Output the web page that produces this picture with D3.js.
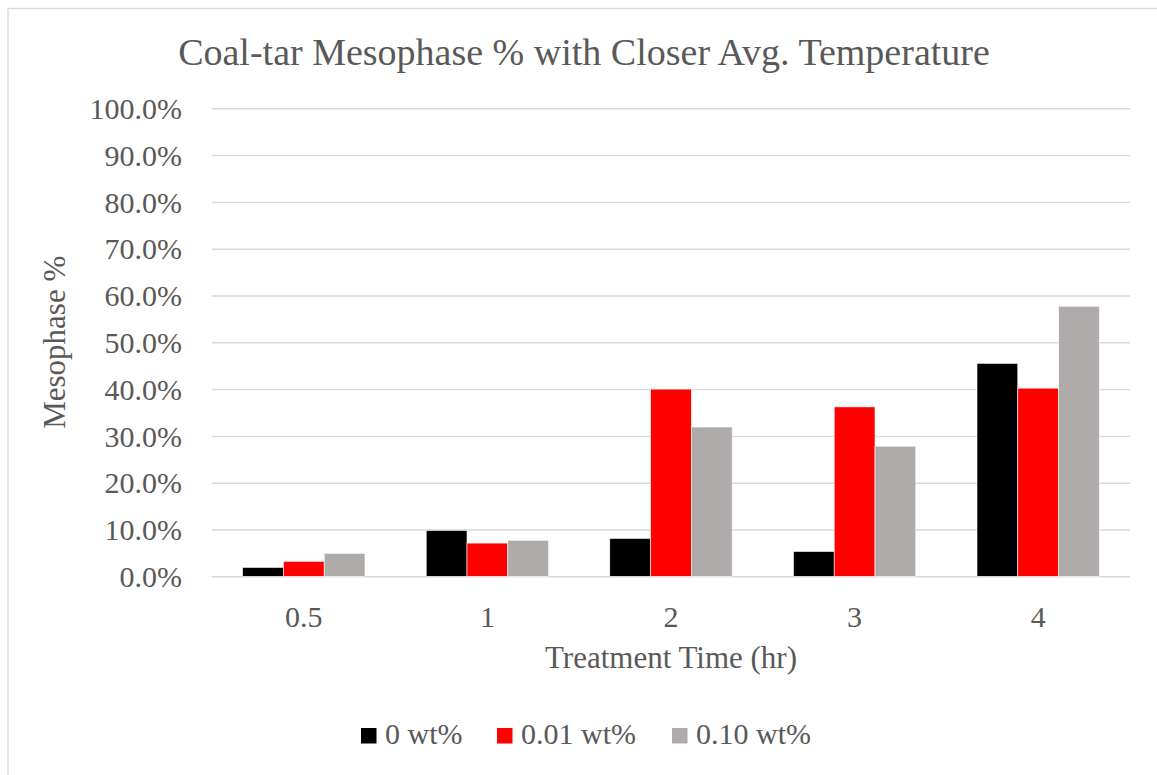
<!DOCTYPE html>
<html>
<head>
<meta charset="utf-8">
<script src="https://cdn.jsdelivr.net/npm/d3@7"></script>
<style>
  html, body { margin: 0; padding: 0; background: #fff; }
  svg { display: block; }
  text { font-family: "Liberation Serif", "Times New Roman", serif; fill: #595959; }
</style>
</head>
<body>
<svg id="chart" width="1157" height="775"></svg>
<script>
// Treatment times (hr) on the x axis
const categories = ["0.5", "1", "2", "3", "4"];

// Series: additive loading and mesophase fraction (%) per treatment time
const seriesNames = ["0 wt%", "0.01 wt%", "0.10 wt%"];
const series0wt   = [1.9, 9.8, 8.1, 5.3, 45.5];
const series001wt = [3.2, 7.1, 40.0, 36.2, 40.2];
const series010wt = [4.9, 7.7, 31.9, 27.8, 57.7];
const seriesColors = ["#000000", "#FF0000", "#AFABAB"];

// Y axis ticks (%)
const yTicks = [0, 10, 20, 30, 40, 50, 60, 70, 80, 90, 100];

const chartTitle = "Coal-tar Mesophase % with Closer Avg. Temperature";
const xTitle = "Treatment Time (hr)";
const yTitle = "Mesophase %";

const svg = d3.select("#chart");

// chart frame
svg.append("rect")
  .attr("x", 8).attr("y", 8.5)
  .attr("width", 1200).attr("height", 800)
  .attr("fill", "none").attr("stroke", "#D9D9D9").attr("stroke-width", 1.3);

const plot = { left: 212, right: 1130, top: 108.3, bottom: 576.3 };

const x = d3.scaleBand()
  .domain(categories)
  .range([plot.left, plot.right])
  .paddingInner(1 / 3)
  .paddingOuter(1 / 6);

const xInner = d3.scaleBand()
  .domain(seriesNames)
  .range([0, x.bandwidth()]);

const y = d3.scaleLinear().domain([0, 100]).range([plot.bottom, plot.top]);

// gridlines + y tick labels
const yAxis = d3.axisLeft(y)
  .tickValues(yTicks)
  .tickSize(-(plot.right - plot.left))
  .tickPadding(30)
  .tickFormat(d => d.toFixed(1) + "%");

const gy = svg.append("g")
  .attr("transform", `translate(${plot.left},0)`)
  .call(yAxis);
gy.select(".domain").remove();
gy.selectAll(".tick line").attr("stroke", "#D9D9D9").attr("stroke-width", 1.4);
gy.selectAll(".tick text")
  .attr("font-size", 30)
  .attr("font-family", "Liberation Serif")
  .attr("fill", "#595959")
  .attr("dy", "0.34em");

// bars
const allSeries = [series0wt, series001wt, series010wt];
const rows = categories.map((c, i) => ({
  cat: c,
  vals: seriesNames.map((s, k) => ({ name: s, value: allSeries[k][i], color: seriesColors[k] }))
}));

const groups = svg.append("g").selectAll("g")
  .data(rows).join("g")
  .attr("transform", d => `translate(${x(d.cat)},0)`);

groups.selectAll("rect")
  .data(d => d.vals).join("rect")
  .attr("x", d => xInner(d.name))
  .attr("width", xInner.bandwidth())
  .attr("y", d => y(d.value))
  .attr("height", d => y(0) - y(d.value))
  .attr("fill", d => d.color)
  .attr("stroke", "#ffffff")
  .attr("stroke-width", 0.6);

// x axis labels
const xAxis = d3.axisBottom(x).tickSize(0).tickPadding(0);
const gx = svg.append("g")
  .attr("transform", `translate(0,${plot.bottom})`)
  .call(xAxis);
gx.select(".domain").remove();
gx.selectAll(".tick text")
  .attr("font-size", 30)
  .attr("font-family", "Liberation Serif")
  .attr("fill", "#595959")
  .attr("y", 0)
  .attr("dy", 0)
  .attr("transform", "translate(0,51)");

// title
svg.append("text")
  .attr("x", 584).attr("y", 65)
  .attr("text-anchor", "middle")
  .attr("font-size", 38)
  .text(chartTitle);

// axis titles
svg.append("text")
  .attr("x", 671).attr("y", 668)
  .attr("text-anchor", "middle")
  .attr("font-size", 31)
  .text(xTitle);

svg.append("text")
  .attr("transform", `translate(65,${(plot.top + plot.bottom) / 2}) rotate(-90)`)
  .attr("text-anchor", "middle")
  .attr("font-size", 31)
  .text(yTitle);

// legend
const legendX = [361, 497, 672];
const legend = svg.append("g");
seriesNames.forEach((name, k) => {
  legend.append("rect")
    .attr("x", legendX[k]).attr("y", 728)
    .attr("width", 15.5).attr("height", 15.5)
    .attr("fill", seriesColors[k]);
  legend.append("text")
    .attr("x", legendX[k] + 24).attr("y", 744)
    .attr("font-size", 30)
    .text(name);
});
</script>
</body>
</html>
